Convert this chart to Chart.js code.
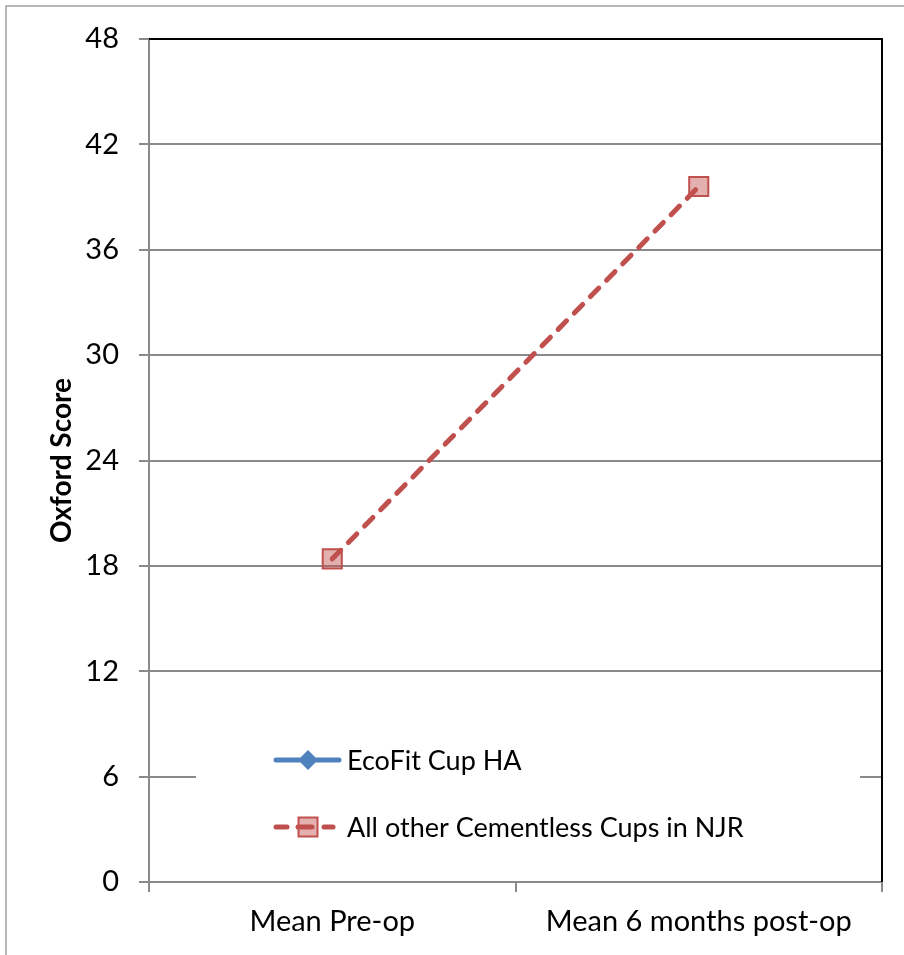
<!DOCTYPE html>
<html>
<head>
<meta charset="utf-8">
<script src="https://cdn.jsdelivr.net/npm/chart.js@4/dist/chart.umd.min.js"></script>
<style>
  html, body { margin: 0; padding: 0; background: #fff; }
  #wrap { width: 904px; height: 955px; }
</style>
</head>
<body>
<div id="wrap"><canvas id="oxfordChart" width="904" height="955"></canvas></div>
<script>
// values
const categories = ['Mean Pre-op', 'Mean 6 months post-op'];
const ecofitValues = [null, null];
const otherCupsValues = [18.4, 39.6];
const seriesNames = ['EcoFit Cup HA', 'All other Cementless Cups in NJR'];
const yMin = 0, yMax = 48, yStep = 6;

const FONT = 'Lato, "Open Sans", sans-serif';
const RED = '#C0504D';
const RED_FILL = 'rgba(192,80,77,0.45)';
const BLUE = '#4F81BD';
const GRID = '#8a8a8a';

// frame, plot border and the white legend box that sits over the gridlines
const decorPlugin = {
  id: 'decor',
  beforeDraw(chart) {
    const ctx = chart.ctx;
    ctx.save();
    ctx.strokeStyle = '#a0a0a0';
    ctx.lineWidth = 1.5;
    ctx.strokeRect(6, 6, 1000, 1000);
    ctx.restore();
  },
  beforeDatasetsDraw(chart) {
    const ctx = chart.ctx;
    const a = chart.chartArea;
    ctx.save();
    ctx.fillStyle = '#fff';
    ctx.fillRect(196, 722, 664, 128);
    ctx.strokeStyle = '#000';
    ctx.lineWidth = 2;
    ctx.beginPath();
    ctx.moveTo(a.left, a.top);
    ctx.lineTo(a.right, a.top);
    ctx.lineTo(a.right, a.bottom);
    ctx.stroke();
    ctx.restore();
  },
  afterDraw(chart) {
    const ctx = chart.ctx;
    ctx.save();
    ctx.font = '27px ' + FONT;
    ctx.textBaseline = 'middle';
    ctx.lineCap = 'round';
    ctx.lineWidth = 5;
    // EcoFit entry
    let y = 760;
    ctx.strokeStyle = BLUE;
    ctx.beginPath(); ctx.moveTo(276, y); ctx.lineTo(339, y); ctx.stroke();
    ctx.fillStyle = BLUE;
    ctx.beginPath();
    ctx.moveTo(308, y - 10); ctx.lineTo(318, y); ctx.lineTo(308, y + 10); ctx.lineTo(298, y);
    ctx.closePath(); ctx.fill();
    ctx.fillStyle = '#000';
    ctx.fillText(chart.data.datasets[0].label, 347, y + 1);
    // other cups entry
    y = 827;
    ctx.strokeStyle = RED;
    ctx.beginPath(); ctx.moveTo(276, y); ctx.lineTo(287, y); ctx.stroke();
    ctx.beginPath(); ctx.moveTo(298, y); ctx.lineTo(312, y); ctx.stroke();
    ctx.beginPath(); ctx.moveTo(324, y); ctx.lineTo(333, y); ctx.stroke();
    ctx.fillStyle = RED_FILL;
    ctx.fillRect(298.5, y - 9.5, 19, 19);
    ctx.lineWidth = 2;
    ctx.strokeRect(298.5, y - 9.5, 19, 19);
    ctx.fillStyle = '#000';
    ctx.fillText(chart.data.datasets[1].label, 347, y + 1);
    ctx.restore();
  }
};

new Chart(document.getElementById('oxfordChart').getContext('2d'), {
  type: 'line',
  data: {
    labels: categories,
    datasets: [{
      label: seriesNames[0],
      data: ecofitValues,
      borderColor: BLUE,
      backgroundColor: BLUE,
      borderWidth: 5,
      pointStyle: 'rectRot',
      pointRadius: 9
    }, {
      label: seriesNames[1],
      data: otherCupsValues,
      borderColor: RED,
      backgroundColor: RED_FILL,
      borderWidth: 5,
      borderDash: [12, 11],
      borderCapStyle: 'round',
      pointStyle: 'rect',
      pointRadius: 13.5,
      pointBorderWidth: 2,
      pointBorderColor: RED
    }]
  },
  options: {
    responsive: false,
    animation: false,
    layout: { padding: { left: 0, top: 39, right: 22, bottom: 0 } },
    plugins: { legend: { display: false }, tooltip: { enabled: false } },
    scales: {
      x: {
        offset: true,
        afterFit(scale) { scale.height = 73; },
        grid: { offset: true, drawOnChartArea: false, color: GRID, lineWidth: 2, tickLength: 10 },
        border: { color: GRID, width: 2 },
        ticks: { color: '#000', font: { family: FONT, size: 29 }, padding: 12 }
      },
      y: {
        min: yMin,
        max: yMax,
        afterFit(scale) { scale.width = 149; },
        grid: { color: GRID, lineWidth: 2, tickLength: 10 },
        border: { color: GRID, width: 2 },
        ticks: { stepSize: yStep, color: '#000', font: { family: FONT, size: 29 }, padding: 20 },
        title: {
          display: true,
          text: 'Oxford Score',
          color: '#000',
          font: { family: FONT, size: 28, weight: 'bold' },
          padding: { top: 45, bottom: 0 }
        }
      }
    }
  },
  plugins: [decorPlugin]
});
</script>
</body>
</html>
